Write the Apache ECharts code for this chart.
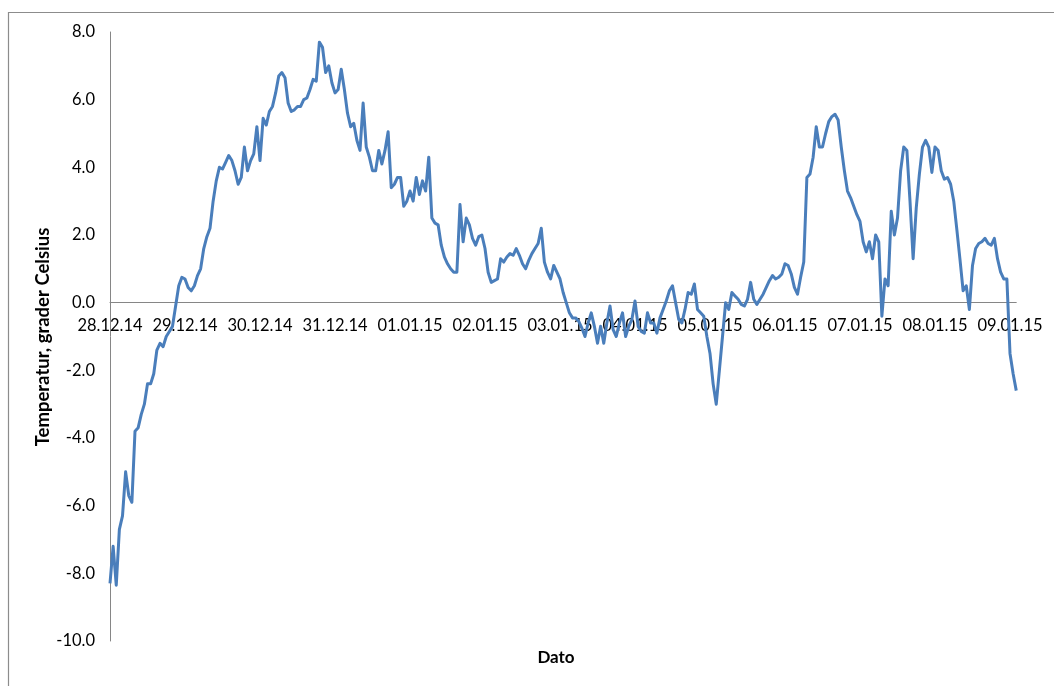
<!DOCTYPE html>
<html>
<head>
<meta charset="utf-8">
<script src="https://cdn.jsdelivr.net/npm/echarts@6/dist/echarts.min.js"></script>
<style>html,body{margin:0;padding:0;background:#fff;}#c{width:1054px;height:686px;}</style>
</head>
<body>
<div id="c"></div>
<script>
// Day tick labels (one per day, starting 28.12.14)
var dateLabels = ['28.12.14','29.12.14','30.12.14','31.12.14','01.01.15','02.01.15','03.01.15','04.01.15','05.01.15','06.01.15','07.01.15','08.01.15','09.01.15'];
// Y tick values
var yTicks = [-10, -8, -6, -4, -2, 0, 2, 4, 6, 8];
// Axis titles
var yTitle = 'Temperatur, grader Celsius';
var xTitle = 'Dato';
// Hourly temperatures (°C), starting 28.12.14 00:00
var temps = [
 -8.3,-7.2,-8.35,-6.7,-6.3,-5.0,-5.7,-5.9,-3.8,-3.7,
 -3.3,-3.0,-2.4,-2.4,-2.1,-1.4,-1.2,-1.3,-1.0,-0.85,
 -0.7,-0.1,0.5,0.75,0.7,0.45,0.35,0.5,0.8,1.0,
 1.6,1.95,2.2,3.0,3.6,4.0,3.95,4.15,4.35,4.2,
 3.9,3.5,3.7,4.6,3.9,4.2,4.4,5.2,4.2,5.45,
 5.25,5.65,5.8,6.2,6.7,6.8,6.65,5.9,5.65,5.7,
 5.8,5.8,6.0,6.05,6.3,6.6,6.55,7.7,7.55,6.8,
 7.0,6.5,6.2,6.3,6.9,6.3,5.6,5.2,5.3,4.8,
 4.5,5.9,4.6,4.3,3.9,3.9,4.5,4.1,4.5,5.05,
 3.4,3.5,3.7,3.7,2.85,3.0,3.3,3.0,3.7,3.2,
 3.6,3.3,4.3,2.5,2.35,2.3,1.7,1.35,1.15,1.0,
 0.9,0.9,2.9,1.8,2.5,2.3,1.9,1.7,1.95,2.0,
 1.6,0.9,0.6,0.65,0.7,1.3,1.2,1.35,1.45,1.4,
 1.6,1.4,1.15,1.0,1.25,1.45,1.6,1.75,2.2,1.2,
 0.9,0.7,1.1,0.9,0.7,0.3,0.0,-0.3,-0.45,-0.45,
 -0.55,-0.75,-1.0,-0.6,-0.3,-0.7,-1.2,-0.7,-1.2,-0.6,
 -0.1,-0.8,-1.0,-0.6,-0.3,-1.0,-0.7,-0.5,0.05,-0.7,
 -0.85,-0.9,-0.3,-0.6,-0.6,-0.9,-0.45,-0.2,0.05,0.35,
 0.5,0.0,-0.5,-0.6,-0.2,0.3,0.25,0.55,-0.2,-0.3,
 -0.4,-1.0,-1.5,-2.4,-3.0,-2.0,-1.0,0.0,-0.2,0.3,
 0.2,0.1,-0.05,-0.1,0.1,0.6,0.1,-0.05,0.1,0.25,
 0.45,0.65,0.8,0.7,0.75,0.85,1.15,1.1,0.85,0.45,
 0.25,0.75,1.2,3.7,3.8,4.3,5.2,4.6,4.6,5.0,
 5.35,5.5,5.57,5.4,4.6,3.9,3.3,3.1,2.85,2.6,
 2.4,1.8,1.5,1.8,1.3,2.0,1.8,-0.4,0.7,0.5,
 2.7,2.0,2.5,3.9,4.6,4.5,3.0,1.3,2.8,3.8,
 4.6,4.8,4.6,3.85,4.6,4.5,3.9,3.65,3.7,3.5,
 3.0,2.15,1.27,0.35,0.5,-0.2,1.1,1.6,1.75,1.8,
 1.9,1.75,1.7,1.9,1.3,0.9,0.7,0.7,-1.5,-2.1,
 -2.6
];

var seriesData = temps.map(function (t, i) { return [i / 24, t]; });
var lastDay = (temps.length - 1) / 24;
var font = 'Lato, "Liberation Sans", sans-serif';

var gridTop = 32, gridBottom = 45, chartH = 686;
var plotH = chartH - gridTop - gridBottom;
var yMin = yTicks[0], yMax = yTicks[yTicks.length - 1];
// shift the date axis up so that it sits on the zero line
var zeroOffset = -plotH * (0 - yMin) / (yMax - yMin);

var chart = echarts.init(document.getElementById('c'), null, {renderer: 'canvas'});
chart.setOption({
  animation: false,
  backgroundColor: '#ffffff',
  grid: {left: 110, right: 1054 - 110 - lastDay * 75, top: gridTop, bottom: gridBottom, containLabel: false},
  xAxis: {
    type: 'value',
    min: 0,
    max: lastDay,
    interval: 1,
    position: 'bottom',
    offset: zeroOffset,
    axisLine: {onZero: false, lineStyle: {color: '#868686', width: 1}},
    axisTick: {show: false},
    splitLine: {show: false},
    axisLabel: {
      margin: 15,
      color: '#000',
      fontFamily: font,
      fontSize: 16.5,
      showMaxLabel: false,
      formatter: function (v) {
        var i = Math.round(v);
        if (Math.abs(v - i) > 1e-6) return '';
        return dateLabels[i] || '';
      }
    }
  },
  yAxis: {
    type: 'value',
    min: yMin,
    max: yMax,
    interval: 2,
    axisLine: {show: true, lineStyle: {color: '#868686', width: 1}},
    axisTick: {show: false},
    splitLine: {show: false},
    axisLabel: {
      margin: 15,
      color: '#000',
      fontFamily: font,
      fontSize: 16.5,
      formatter: function (v) { return v.toFixed(1); }
    }
  },
  series: [{
    type: 'line',
    data: seriesData,
    showSymbol: false,
    symbol: 'none',
    smooth: false,
    lineStyle: {color: '#4a7ebb', width: 3, join: 'round'},
    clip: false
  }],
  graphic: [
    {type: 'rect', silent: true, shape: {x: 8.5, y: 12.5, width: 1200, height: 1000},
     style: {fill: 'none', stroke: '#8c8c8c', lineWidth: 1.2}},
    {type: 'text', x: 43, y: 337, rotation: Math.PI / 2, silent: true,
     style: {text: yTitle, fontFamily: font, fontSize: 18.5, fontWeight: 'bold', fill: '#000', align: 'center', verticalAlign: 'middle'}},
    {type: 'text', x: 556, y: 658, silent: true,
     style: {text: xTitle, fontFamily: font, fontSize: 17, fontWeight: 'bold', fill: '#000', align: 'center', verticalAlign: 'middle'}}
  ]
});
</script>
</body>
</html>
